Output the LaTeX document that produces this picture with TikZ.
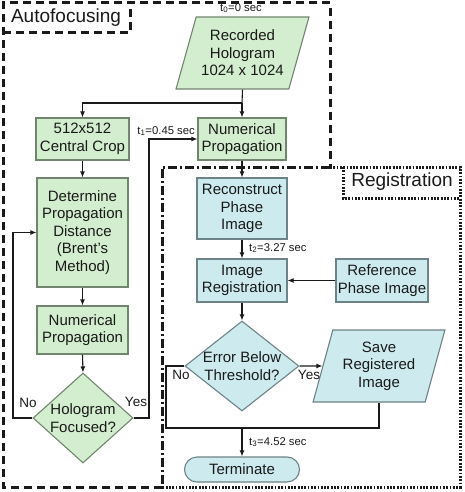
\documentclass[tikz,border=0pt]{standalone}
\usepackage{fontspec}
\setmainfont{Liberation Sans}
\usetikzlibrary{shapes.geometric,arrows.meta}
\definecolor{gfill}{HTML}{D3EECE}
\definecolor{gdraw}{HTML}{72866F}
\definecolor{bfill}{HTML}{CDEAEF}
\definecolor{bdraw}{HTML}{6E8387}
\definecolor{ink}{HTML}{1A1A1A}
\tikzset{
  main/.style={font=\fontsize{15}{17.5}\selectfont, text=ink, align=center, inner sep=0pt},
  gbox/.style={main, rectangle, draw=gdraw, fill=gfill, line width=1.1pt},
  bbox/.style={main, rectangle, draw=bdraw, fill=bfill, line width=1.1pt},
  gdiam/.style={diamond, draw=gdraw, fill=gfill, line width=1.1pt, inner sep=0pt},
  bdiam/.style={diamond, draw=bdraw, fill=bfill, line width=1.1pt, inner sep=0pt},
  para/.style={main, trapezium, trapezium stretches=true, line width=1.1pt},
  small/.style={font=\fontsize{11.3}{13}\selectfont, text=ink, inner sep=0pt},
  yn/.style={font=\fontsize{13.5}{15}\selectfont, text=ink, inner sep=0pt},
  conn/.style={draw=ink, line width=1.1pt},
  arr/.style={conn, -{Latex[length=6pt,width=5pt]}},
  frame/.style={line width=3pt, draw=ink},
  big/.style={font=\fontsize{19}{22}\selectfont, text=ink, inner sep=0pt},
}
\begin{document}
\begin{tikzpicture}[x=1pt,y=-1pt]
\useasboundingbox (0,0) rectangle (464,492);
% frames
\draw[frame, dash pattern=on 8pt off 5pt] (162,487) -- (3,487) -- (3,3) -- (330,3) -- (330,167);
\draw[frame, dash pattern=on 1.8pt off 1.5pt] (330,167) -- (460,167) -- (460,487) -- (162,487);
\draw[frame, dash pattern=on 9pt off 3pt on 2pt off 3pt] (330,167) -- (162,167) -- (162,487);
\draw[frame, dash pattern=on 8pt off 5pt] (3,33) -- (130,33) -- (130,3);
\draw[frame, dash pattern=on 1.8pt off 1.5pt] (343,167) -- (343,198) -- (460,198);
\node[big] (autolbl) at (66,18) {Autofocusing};
\node[big] (reglbl) at (402,182) {Registration};
% nodes
\node[para, draw=gdraw, fill=gfill, trapezium left angle=68.7, trapezium right angle=111.3,
      minimum width=133pt, minimum height=72pt] (rec) at (242.5,53) {Recorded\\Hologram\\1024 x 1024};
\node[gbox, minimum width=93pt, minimum height=42pt] (crop) at (82.5,139) {512x512\\Central Crop};
\node[gbox, minimum width=88pt, minimum height=42pt] (np1) at (242,139) {Numerical\\Propagation};
\node[gbox, minimum width=91pt, minimum height=109pt] (det) at (82.5,232.5) {Determine\\Propagation\\Distance\\(Brent’s\\Method)};
\node[gbox, minimum width=91pt, minimum height=48pt] (np2) at (82.5,330) {Numerical\\Propagation};
\node[gdiam, minimum width=100pt, minimum height=90pt] (hf) at (83,418) {};
\node[main] (hft) at (hf.center) {Hologram\\Focused?};
\node[bbox, minimum width=90pt, minimum height=61pt] (recon) at (242,208.5) {Reconstruct\\Phase\\Image};
\node[bbox, minimum width=90pt, minimum height=43pt] (imreg) at (242,280.5) {Image\\Registration};
\node[bbox, minimum width=92pt, minimum height=43pt] (refph) at (382,280.5) {Reference\\Phase Image};
\node[bdiam, minimum width=114pt, minimum height=90pt] (ebt) at (242,366) {};
\node[main] (ebtt) at (ebt.center) {Error Below\\Threshold?};
\node[para, draw=bdraw, fill=bfill, trapezium left angle=72.3, trapezium right angle=107.7,
      minimum width=132pt, minimum height=72pt] (save) at (379,366) {Save\\Registered\\Image};
\node[main, draw=bdraw, fill=bfill, line width=1.1pt, rounded corners=12.5pt,
      minimum width=115pt, minimum height=25pt] (term) at (242,469.5) {Terminate};
% labels
\node[small] (t0) at (241,8) {t\textsubscript{0}=0 sec};
\node[small, anchor=east] (t1) at (195,131) {t\textsubscript{1}=0.45 sec};
\node[small, anchor=west] (t2) at (249,248) {t\textsubscript{2}=3.27 sec};
\node[small, anchor=west] (t3) at (249,442) {t\textsubscript{3}=4.52 sec};
\node[yn] (no1) at (28,403) {No};
\node[yn] (yes1) at (136,402) {Yes};
\node[yn] (no2) at (181,375) {No};
\node[yn] (yes2) at (309,375) {Yes};
% connectors
\coordinate (j1) at (242,103);
\draw[conn] (rec.south) -- (j1);
\draw[arr] (j1) -| (crop.north);
\draw[arr] (j1) -- (np1.north);
\draw[arr] (crop.south) -- (det.north);
\draw[arr] (det.south) -- (np2.north);
\draw[arr] (np2.south) -- (hf.north);
\coordinate (lx) at (13,418);
\draw[arr] (hf.west) -- (lx) |- (det.west);
\coordinate (rx) at (149,418);
\draw[arr] (hf.east) -- (rx) |- (np1.west);
\draw[arr] (np1.south) -- (recon.north);
\draw[arr] (recon.south) -- (imreg.north);
\draw[arr] (refph.west) -- (imreg.east);
\draw[arr] (imreg.south) -- (ebt.north);
\draw[arr] (ebt.east) -- (save.west);
\coordinate (lx2) at (166,366);
\coordinate (jm) at (242,428);
\draw[conn] (ebt.west) -- (lx2) |- (save.south |- jm) -- (save.south);
\draw[arr] (jm) -- (term.north);
\end{tikzpicture}
\end{document}
